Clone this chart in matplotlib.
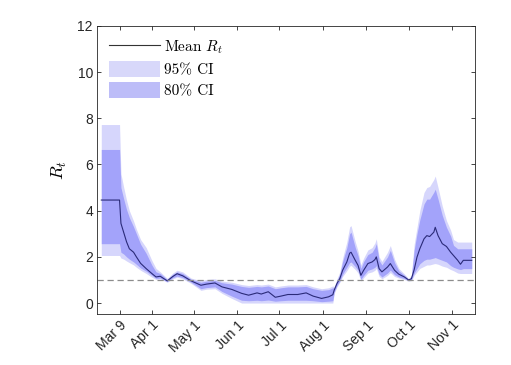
import pandas as pd
import matplotlib
matplotlib.use("Agg")
import matplotlib.pyplot as plt
from matplotlib.lines import Line2D
from matplotlib.patches import Patch

plt.rcParams['mathtext.fontset'] = 'cm'

# date, mean, 95% low, 80% low, 80% high, 95% high
dates = ['2020-02-25', '2020-03-09', '2020-03-10', '2020-03-12', '2020-03-14', '2020-03-16',
         '2020-03-19', '2020-03-21', '2020-03-24', '2020-03-28', '2020-04-01', '2020-04-04',
         '2020-04-07', '2020-04-12', '2020-04-16', '2020-04-19', '2020-04-23', '2020-04-29',
         '2020-05-06', '2020-05-10', '2020-05-16', '2020-05-21', '2020-05-28', '2020-06-04',
         '2020-06-09', '2020-06-15', '2020-06-18', '2020-06-23', '2020-06-28', '2020-07-02',
         '2020-07-07', '2020-07-14', '2020-07-20', '2020-07-25', '2020-07-31', '2020-08-05',
         '2020-08-08', '2020-08-09', '2020-08-11', '2020-08-13', '2020-08-15', '2020-08-18',
         '2020-08-20', '2020-08-21', '2020-08-24', '2020-08-26', '2020-08-28', '2020-08-30',
         '2020-09-02', '2020-09-05', '2020-09-07', '2020-09-08', '2020-09-10', '2020-09-12',
         '2020-09-16', '2020-09-18', '2020-09-21', '2020-09-24', '2020-09-28', '2020-10-01',
         '2020-10-03', '2020-10-05', '2020-10-07', '2020-10-09', '2020-10-12', '2020-10-14',
         '2020-10-16', '2020-10-19', '2020-10-20', '2020-10-22', '2020-10-25', '2020-10-28',
         '2020-10-31', '2020-11-02', '2020-11-05', '2020-11-07', '2020-11-09', '2020-11-15']

r_mean = [4.46, 4.46, 3.45, 3.05, 2.65, 2.35, 2.2, 2.0, 1.72, 1.49, 1.28, 1.13,
          1.16, 0.96, 1.15, 1.27, 1.18, 0.96, 0.77, 0.82, 0.87, 0.70, 0.59, 0.42,
          0.34, 0.44, 0.39, 0.49, 0.25, 0.30, 0.37, 0.37, 0.44, 0.30, 0.20, 0.27,
          0.36, 0.56, 0.85, 1.06, 1.42, 1.78, 2.16, 2.2, 1.85, 1.63, 1.2, 1.42,
          1.71, 1.78, 1.88, 2.0, 1.49, 1.35, 1.56, 1.71, 1.42, 1.25, 1.13, 1.0,
          1.05, 1.45, 1.99, 2.35, 2.78, 2.92, 2.88, 3.07, 3.28, 2.92, 2.57, 2.45,
          2.2, 2.06, 1.85, 1.68, 1.85, 1.85]

lo95 = [2.06, 2.06, 1.95, 1.9, 1.82, 1.75, 1.65, 1.55, 1.42, 1.28, 1.12, 1.02,
        1.04, 0.9, 1.05, 1.12, 1.05, 0.85, 0.55, 0.6, 0.62, 0.42, 0.2, 0.0,
        0.0, 0.0, 0.0, 0.0, 0.0, 0.0, 0.0, 0.0, 0.0, 0.0, 0.0, 0.0,
        0.0, 0.42, 0.7, 0.9, 1.15, 1.4, 1.6, 1.63, 1.45, 1.3, 0.95, 1.1,
        1.3, 1.35, 1.42, 1.5, 1.15, 1.05, 1.2, 1.32, 1.15, 1.08, 1.02, 0.95,
        0.97, 1.2, 1.35, 1.5, 1.59, 1.65, 1.65, 1.7, 1.71, 1.68, 1.6, 1.55,
        1.45, 1.4, 1.3, 1.28, 1.28, 1.28]

lo80 = [2.57, 2.57, 2.2, 2.12, 2.0, 1.9, 1.78, 1.68, 1.52, 1.38, 1.2, 1.07,
        1.08, 0.93, 1.1, 1.17, 1.1, 0.9, 0.62, 0.67, 0.7, 0.5, 0.3, 0.12,
        0.1, 0.12, 0.1, 0.13, 0.08, 0.1, 0.12, 0.12, 0.12, 0.1, 0.06, 0.08,
        0.1, 0.48, 0.76, 0.96, 1.25, 1.55, 1.75, 1.78, 1.58, 1.42, 1.03, 1.2,
        1.42, 1.48, 1.55, 1.62, 1.25, 1.13, 1.3, 1.43, 1.23, 1.13, 1.06, 0.97,
        1.0, 1.3, 1.5, 1.7, 1.85, 1.9, 1.9, 1.95, 1.97, 1.92, 1.85, 1.78,
        1.62, 1.55, 1.48, 1.45, 1.49, 1.49]

hi80 = [6.65, 6.65, 5.0, 4.5, 4.05, 3.7, 3.3, 3.0, 2.55, 2.15, 1.65, 1.35,
        1.28, 1.02, 1.25, 1.35, 1.28, 1.03, 0.9, 0.95, 0.98, 0.88, 0.82, 0.72,
        0.68, 0.72, 0.7, 0.74, 0.62, 0.66, 0.7, 0.7, 0.72, 0.62, 0.55, 0.58,
        0.66, 0.66, 0.98, 1.25, 1.8, 2.4, 3.0, 3.07, 2.4, 2.05, 1.5, 1.8,
        2.1, 2.2, 2.4, 2.57, 1.85, 1.65, 2.0, 2.28, 1.75, 1.4, 1.2, 1.03,
        1.15, 2.3, 3.0, 3.6, 4.29, 4.5, 4.5, 4.8, 4.93, 4.5, 3.8, 3.28,
        2.9, 2.5, 2.35, 2.35, 2.35, 2.35]

hi95 = [7.73, 7.73, 5.6, 5.0, 4.45, 4.0, 3.55, 3.2, 2.75, 2.4, 1.85, 1.5,
        1.35, 1.07, 1.3, 1.42, 1.35, 1.08, 0.97, 1.02, 1.05, 0.95, 0.9, 0.8,
        0.76, 0.8, 0.78, 0.82, 0.7, 0.74, 0.78, 0.78, 0.8, 0.7, 0.62, 0.66,
        0.74, 0.72, 1.05, 1.35, 1.95, 2.65, 3.3, 3.35, 2.65, 2.25, 1.65, 1.95,
        2.3, 2.4, 2.6, 2.78, 2.0, 1.8, 2.2, 2.49, 1.9, 1.5, 1.26, 1.06,
        1.22, 2.55, 3.28, 4.0, 4.79, 5.0, 5.05, 5.35, 5.5, 5.0, 4.2, 3.57,
        3.15, 2.75, 2.64, 2.64, 2.64, 2.64]

tick_dates = ['2020-03-09', '2020-04-01', '2020-05-01', '2020-06-01', '2020-07-01',
              '2020-08-01', '2020-09-01', '2020-10-01', '2020-11-01']
tick_labels = ['Mar 9', 'Apr 1', 'May 1', 'Jun 1', 'Jul 1', 'Aug 1', 'Sep 1', 'Oct 1', 'Nov 1']

t = pd.to_datetime(dates)

fig = plt.figure(figsize=(5.11, 3.65), dpi=100)
ax = fig.add_axes([0.190, 0.140, 0.740, 0.789])

ax.fill_between(t, lo95, hi95, color='#d6d6fc', linewidth=0)
ax.fill_between(t, lo80, hi80, color='#a3a3fa', linewidth=0)
ax.plot(t, r_mean, color='#2a2a78', linewidth=0.8)
ax.axhline(1, color='#8c8c8c', linestyle=(0, (5, 3)), linewidth=0.9)

ax.set_xlim(pd.Timestamp('2020-02-22'), pd.Timestamp('2020-11-17 12:00'))
ax.set_ylim(-0.47, 12)
ax.set_yticks(range(0, 13, 2))
ax.set_xticks(pd.to_datetime(tick_dates))
ax.set_xticklabels(tick_labels, rotation=45, ha='right', rotation_mode='anchor',
                   family='Liberation Sans', fontsize=10, color='#262626')
for lab in ax.get_yticklabels():
    lab.set_family('Liberation Sans')
    lab.set_fontsize(10)
    lab.set_color('#262626')

ax.tick_params(direction='in', top=True, right=True, length=3, width=0.6,
               colors='#262626', pad=3)
for sp in ax.spines.values():
    sp.set_color('#262626')
    sp.set_linewidth(0.6)

ax.set_ylabel('$R_t$', fontsize=13, labelpad=6)

handles = [Line2D([], [], color='#333333', linewidth=0.8),
           Patch(facecolor='#d8d8fa', edgecolor='none'),
           Patch(facecolor='#bdbdf8', edgecolor='none')]
ax.legend(handles, ['Mean $R_t$', '95% CI', '80% CI'], loc='upper left',
          frameon=False, prop={'family': 'cmr10', 'size': 11},
          handlelength=3.3, handleheight=1.2, handletextpad=0.25,
          labelspacing=0.35, borderaxespad=0.4, bbox_to_anchor=(0.0, 1.0))

fig.savefig('out.png', dpi=100)
